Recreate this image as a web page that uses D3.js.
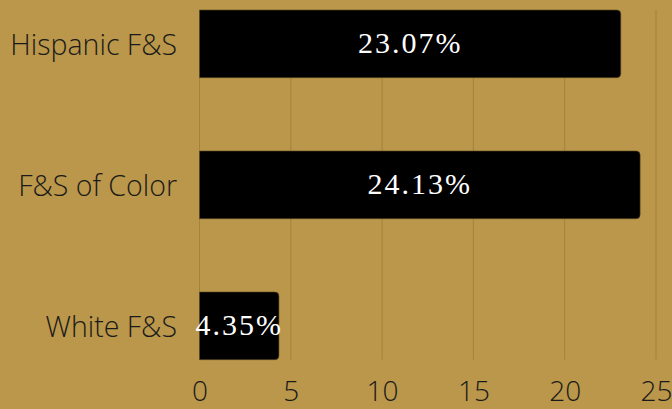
<!DOCTYPE html>
<html><head><meta charset="utf-8">
<script src="https://cdn.jsdelivr.net/npm/d3@7"></script>
<style>html,body{margin:0;padding:0;background:#ba974a;}svg{display:block;}</style>
</head><body><svg id="c" width="672" height="409"></svg>
<script>
const categories = ["Hispanic F&S", "F&S of Color", "White F&S"];
const values = [23.07, 24.13, 4.35];
const valueLabels = ["23.07%", "24.13%", "4.35%"];
const xTicks = [0, 5, 10, 15, 20, 25];

const svg = d3.select("#c");
const x = d3.scaleLinear().domain([0, 25]).range([199.5, 656]);
const y = d3.scaleBand().domain(categories).range([-26.66, 396.34]).paddingInner(0.52).paddingOuter(0.26);

svg.append("rect").attr("width", 672).attr("height", 409).attr("fill", "#ba974a");

// gridlines
svg.append("g").selectAll("line").data(xTicks).join("line")
  .attr("x1", d => x(d)).attr("x2", d => x(d))
  .attr("y1", y(categories[0])).attr("y2", y(categories[2]) + y.bandwidth())
  .attr("stroke", "#a2833a").attr("stroke-width", 1);

// bars with rounded right corners
function barPath(x0, x1, y0, h, r) {
  r = Math.min(r, (x1 - x0) / 2);
  return `M${x0},${y0}H${x1 - r}Q${x1},${y0} ${x1},${y0 + r}V${y0 + h - r}Q${x1},${y0 + h} ${x1 - r},${y0 + h}H${x0}Z`;
}
svg.append("g").selectAll("path").data(values).join("path")
  .attr("d", (d, i) => barPath(x(0), x(d), y(categories[i]), y.bandwidth(), 4))
  .attr("fill", "#000").attr("stroke", "#5a4820").attr("stroke-width", 0.6);

// value labels
svg.append("g").selectAll("text").data(values).join("text")
  .attr("x", (d, i) => (x(0) + x(d)) / 2)
  .attr("y", (d, i) => y(categories[i]) + y.bandwidth() / 2)
  .attr("dy", "0.3em")
  .attr("text-anchor", "middle")
  .attr("fill", "#fff")
  .style("font-family", "'Liberation Serif', 'DejaVu Serif', serif")
  .style("font-size", "30px")
  .style("letter-spacing", "2px")
  .text((d, i) => valueLabels[i]);

// category labels (slightly condensed)
svg.append("g").selectAll("g").data(categories).join("g")
  .attr("transform", d => `translate(177,${y(d) + y.bandwidth() / 2}) scale(0.95,1)`)
  .append("text")
  .attr("x", 0).attr("y", 0)
  .attr("dy", "0.36em")
  .attr("text-anchor", "end")
  .attr("fill", "#1a1a1a")
  .style("font-family", "'Open Sans', sans-serif")
  .style("font-weight", 300)
  .style("font-size", "30px")
  .text(d => d);

// x axis tick labels
const xAxis = d3.axisBottom(x).tickValues(xTicks).tickSize(0).tickPadding(0);
const gx = svg.append("g").attr("transform", "translate(0,391)").call(xAxis);
gx.select(".domain").remove();
gx.selectAll("text")
  .attr("fill", "#1a1a1a")
  .attr("y", 0).attr("dy", "0.36em")
  .style("font-family", "'Open Sans', sans-serif")
  .style("font-weight", 300)
  .style("font-size", "28px");
</script></body></html>
